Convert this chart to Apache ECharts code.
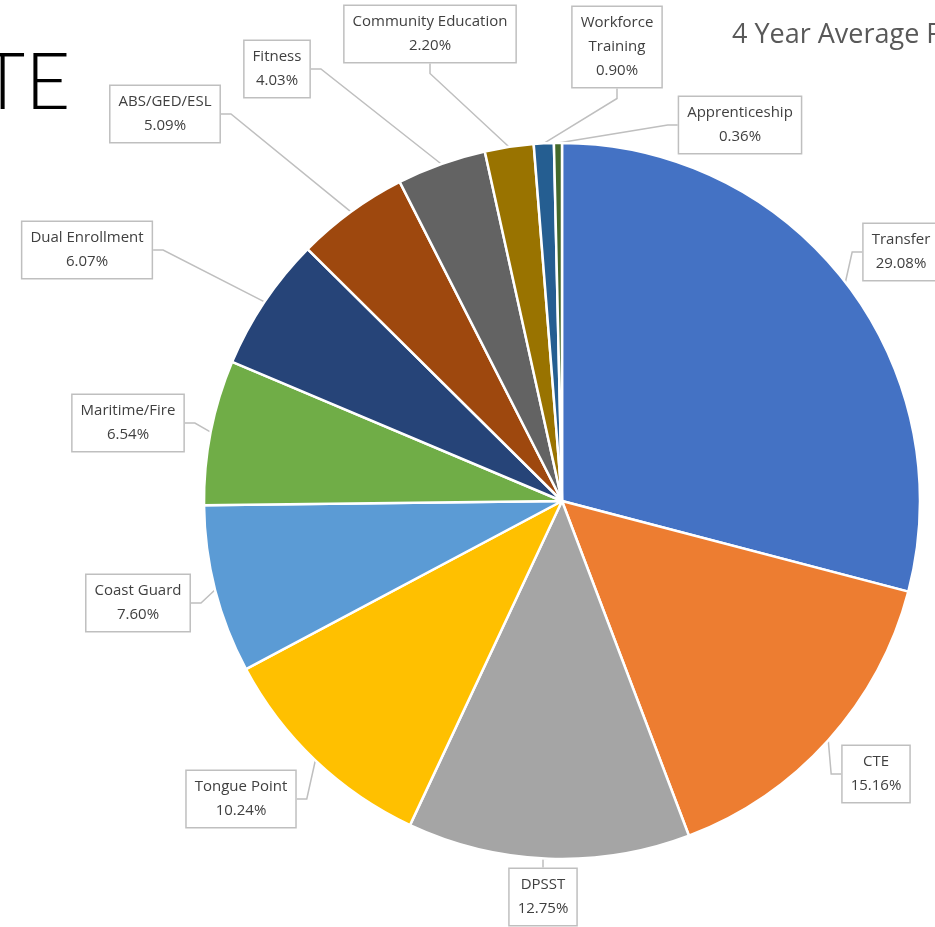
<!DOCTYPE html>
<html>
<head>
<meta charset="utf-8">
<script src="https://cdn.jsdelivr.net/npm/echarts@6/dist/echarts.min.js"></script>
<style>
  html, body { margin: 0; padding: 0; background: #fff; overflow: hidden; }
  #pieChart { width: 935px; height: 927px; }
</style>
</head>
<body>
<div id="pieChart"></div>
<script>
// clockwise from 12 o'clock
const categories = ['Transfer', 'CTE', 'DPSST', 'Tongue Point', 'Coast Guard', 'Maritime/Fire',
  'Dual Enrollment', 'ABS/GED/ESL', 'Fitness', 'Community Education', 'Workforce Training', 'Apprenticeship']
const shares = [29.08, 15.16, 12.75, 10.24, 7.60, 6.54, 6.07, 5.09, 4.03, 2.20, 0.90, 0.36]
const colors = ['#4472C4', '#ED7D31', '#A5A5A5', '#FFC000', '#5B9BD5', '#70AD47',
  '#264478', '#9E480E', '#636363', '#997300', '#255E91', '#43682B']

// callout box centres
const labelPos = [
  [901, 252], [876, 774], [543, 897], [241, 799], [138, 603], [128, 423],
  [87, 250], [165, 114], [277, 69], [430, 34], [617, 47], [740, 125]
]

const chart = echarts.init(document.getElementById('pieChart'))

chart.setOption({
  animation: false,
  graphic: [
    {
      type: 'text', left: -64, top: 45,
      style: { text: 'FTE', font: '300 78px Lato, "Open Sans", sans-serif', fill: '#000' }
    },
    {
      type: 'text', left: 732, top: 22,
      style: { text: '4 Year Average FTE', font: '27px "Open Sans", sans-serif', fill: '#595959' }
    }
  ],
  series: [{
    type: 'pie',
    center: [562, 501],
    radius: 358,
    startAngle: 90,
    clockwise: true,
    avoidLabelOverlap: false,
    itemStyle: { borderColor: '#fff', borderWidth: 2.5 },
    label: {
      show: true,
      position: 'outside',
      formatter: (p) => {
        const name = p.name === 'Workforce Training' ? 'Workforce\nTraining' : p.name
        return name + '\n' + p.value.toFixed(2) + '%'
      },
      fontFamily: '"Open Sans", sans-serif',
      fontSize: 15,
      lineHeight: 24,
      color: '#404040',
      align: 'center',
      backgroundColor: '#fff',
      borderColor: '#BFBFBF',
      borderWidth: 1.5,
      padding: [4, 8]
    },
    labelLine: {
      show: true,
      length: 10,
      length2: 10,
      lineStyle: { color: '#BFBFBF', width: 1.5 }
    },
    labelLayout: (params) => {
      const pos = labelPos[params.dataIndex]
      return { x: pos[0], y: pos[1], align: 'center', verticalAlign: 'middle' }
    },
    data: categories.map((name, i) => ({
      name: name,
      value: shares[i],
      itemStyle: { color: colors[i] }
    }))
  }]
})
</script>
</body>
</html>
